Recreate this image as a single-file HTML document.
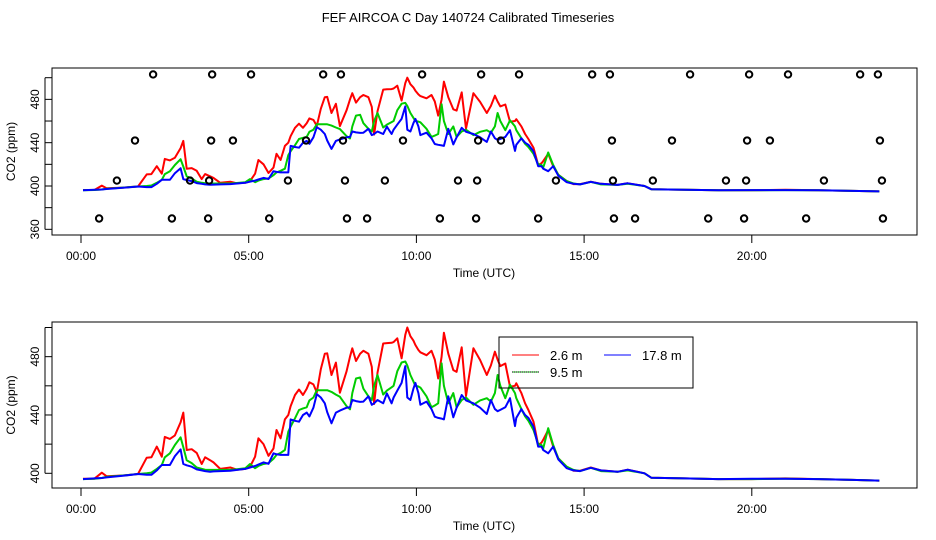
<!DOCTYPE html>
<html><head><meta charset="utf-8"><style>
body{margin:0;background:#fff;}
svg{display:block;font-family:"Liberation Sans",sans-serif;}
</style></head><body>
<svg id="c" width="936" height="540" viewBox="0 0 936 540">
<text x="468" y="22" text-anchor="middle" font-size="13">FEF AIRCOA C  Day 140724  Calibrated Timeseries</text>
</svg>
<script>
const hours=[0.06,0.4,0.62,0.76,1.25,1.7,1.96,2.1,2.26,2.41,2.5,2.65,2.8,2.97,3.05,3.15,3.3,3.45,3.6,3.7,3.85,3.95,4.15,4.45,4.65,4.9,5.04,5.19,5.29,5.44,5.59,5.74,5.83,5.95,6.08,6.18,6.25,6.38,6.5,6.62,6.73,6.81,6.93,7.03,7.15,7.27,7.34,7.47,7.6,7.72,7.92,8.02,8.09,8.2,8.32,8.42,8.57,8.67,8.74,8.84,9.01,9.12,9.26,9.32,9.43,9.56,9.67,9.73,9.82,9.91,9.97,10.06,10.12,10.3,10.45,10.55,10.65,10.75,10.82,10.95,11.1,11.2,11.35,11.48,11.7,11.9,12.1,12.22,12.34,12.42,12.5,12.65,12.79,12.94,12.98,13.13,13.24,13.34,13.49,13.63,13.73,13.78,13.93,14.08,14.23,14.48,14.68,14.88,15.2,15.5,16.0,16.3,16.8,17.0,18.0,19.0,20.0,21.0,22.0,23.0,23.8];
const red=[396.3,396.3,400.4,398,398.5,399.5,410.7,411,418.3,411.4,425,423.6,426,435,441.6,416,416.5,414,406.4,411,409,407.5,403,404,402.5,403,404.5,411.4,424,420,412,417,429.7,424,437,440,446,453.7,457.5,453.7,458,462.4,461,455.5,471.3,482,482.3,467.4,475.9,455.3,470,480,485.7,477,482,484,482,473,447.5,469,489,489.3,489.5,490,492.6,478.9,495,500,494,491,488,484.6,483,481,484,478,465,480,496.4,482,470.8,469.6,486.4,453,485.7,477.7,467.4,474,483.4,478,473.5,475.3,459.4,460,461.7,455,448,443.4,435.4,419.4,421,423,429.7,418.3,410.3,404.5,401.8,401.8,404,402,401,402.5,400,397,396.5,396,396,396.5,396,395.5,395];
const green=[396,396.3,396.8,397.5,398.5,399.5,400,400.5,403,405.7,411,413.7,419.4,424.7,418,409,407,404,403,402.5,402.3,402.3,402.3,402.3,402.8,403.5,406.4,403.5,405,406.4,407,410,412.6,414,416,428.5,432,437.7,443.4,444.5,445.3,450,452,457,457,457,457,455.8,454,452.5,446,443.9,455,465,465.7,458,452.8,450.3,460,467.4,454,456.7,459,460,470,476,476.7,474,467.4,463,460,459.5,458.8,452.8,445.3,446.5,448,475.4,460,448,455,445.3,450.3,452,447,450,451.5,449.2,455,467.4,460,451.5,460.7,455,451.5,444,439,436,429.7,420,419.4,417,430.9,419.4,410.3,404.5,402.3,401.5,403.8,401.5,401,402,400,397,396.5,396,396,396.2,396,395.5,395];
const blue=[396,396.5,396.8,397.2,398.3,399.5,399,399,402,405.7,405.7,405.7,411.8,416.4,406.4,405.5,404.5,402.7,402,401.5,401.1,401.3,401.5,401.8,402.3,403,404,405,406,407.5,406.5,413.7,413,412.6,412.6,412.6,437,436,435.4,440,441.6,439,445,454.3,452,448,442,434.3,441.6,443,445,445.3,450.3,449.5,449,449.2,452.8,447,448,450.3,448,454.8,448,452,456.7,462,473.5,452,450.3,458,462,455,447,449.2,444,438.8,438,437.5,437,452.8,438.4,445,453.7,450,448,445,440.7,450.3,444,442.6,443.5,445.3,451.5,432.4,438,444,440,438,432,418.3,418.3,416,413.7,418.3,409.5,403.5,402,401.5,403.8,402,401,402.5,400,397,396.5,396,396.2,396.2,396,395.5,395];
const flagHours370=[0.54,2.71,3.79,5.61,7.93,8.53,10.7,11.78,13.63,15.89,16.52,18.7,19.77,21.62,23.91];
const flagHours405=[1.07,3.25,3.82,6.17,7.87,9.06,11.24,11.81,14.16,15.86,17.05,19.23,19.83,22.15,23.88];
const flagHours442=[1.61,3.88,4.53,6.71,7.81,9.6,11.84,12.52,15.83,17.62,19.86,20.54,23.82];
const flagHours503=[2.15,3.91,5.07,7.22,7.75,10.17,11.93,13.06,15.24,15.77,18.16,19.92,21.08,23.23,23.76];
const xTickHours=[0,5,10,15,20];
const xTickLabels=["00:00","05:00","10:00","15:00","20:00"];
const yTicks=[360,380,400,420,440,460,480,500];
const yLabelVals=[360,400,440,480];
const yTicks2=[400,420,440,460,480,500];
const yLabelVals2=[400,440,480];

const svg=document.getElementById('c');
const NS='http://www.w3.org/2000/svg';
function mk(tag,attrs,parent){const e=document.createElementNS(NS,tag);for(const k in attrs)e.setAttribute(k,attrs[k]);(parent||svg).appendChild(e);return e;}
const X=h=>81+h*33.54;
function panel(top,bottom,Y,ticks,labelVals,name,withFlags){
  const g=mk('g',{});
  
  
  const box=mk('rect',{x:52,y:top,width:865,height:bottom-top,fill:'none',stroke:'#000','stroke-width':1},g);
  
  
  const xa=mk('g',{},g);
  
  
  mk('line',{x1:X(0),x2:X(20),y1:bottom,y2:bottom,stroke:'none'},xa);
  xTickHours.forEach((h,i)=>{
    mk('line',{x1:X(h),x2:X(h),y1:bottom,y2:bottom+8,stroke:'#000'},xa);
    const t=mk('text',{x:X(h),y:bottom+25,'text-anchor':'middle','font-size':12},xa);
    t.textContent=xTickLabels[i];
    
    
  });
  const xt=mk('text',{x:484,y:bottom+42,'text-anchor':'middle','font-size':12},g);
  xt.textContent='Time (UTC)';
  
  
  const ya=mk('g',{},g);
  
  
  mk('line',{x1:45,x2:45,y1:Y(ticks[0]),y2:Y(ticks[ticks.length-1]),stroke:'#000'},ya);
  ticks.forEach(v=>mk('line',{x1:45,x2:52,y1:Y(v),y2:Y(v),stroke:'#000'},ya));
  labelVals.forEach(v=>{
    const t=mk('text',{x:0,y:0,'text-anchor':'middle','font-size':12,transform:`translate(39,${Y(v)}) rotate(-90)`},ya);
    t.textContent=v;
    
    
  });
  const yt=mk('text',{x:0,y:0,'text-anchor':'middle','font-size':12,transform:`translate(15,${(top+bottom)/2}) rotate(-90)`},g);
  yt.textContent='CO2 (ppm)';
  
  
  [[red,'#f00','series-2-6m'],[green,'#0c0','series-9-5m'],[blue,'#00f','series-17-8m']].forEach(([d,c,n])=>{
    const p=mk('polyline',{points:hours.map((h,i)=>X(h).toFixed(1)+','+Y(d[i]).toFixed(1)).join(' '),fill:'none',stroke:c,'stroke-width':2,'stroke-linejoin':'round'},g);
    
    
  });
  if(withFlags){
    [[flagHours370,370],[flagHours405,405],[flagHours442,442],[flagHours503,503]].forEach(([arr,v])=>{
      arr.forEach(h=>{
        const c=mk('circle',{cx:X(h),cy:Y(v),r:3.2,fill:'none',stroke:'#000','stroke-width':2},g);
        
        
      });
    });
  }
}
panel(68,235,v=>186-(v-400)*1.083,yTicks,yLabelVals,'top-panel',true);
panel(322,488,v=>473.3-(v-400)*1.458,yTicks2,yLabelVals2,'bottom-panel',false);

const lg=mk('g',{});


mk('rect',{x:499,y:337,width:194,height:51,fill:'none',stroke:'#000'},lg);
[[512,355,'#f00','2.6 m',false],[604,355,'#00f','17.8 m',false],[512,372,'#0c0','9.5 m',true]].forEach(([x,y,c,l,dot])=>{
  const e=mk('g',{},lg);
  
  
  mk('line',{x1:x,x2:x+27,y1:y,y2:y,stroke:c,'stroke-width':1},e);
  if(dot)mk('line',{x1:x,x2:x+27,y1:y,y2:y,stroke:'#000','stroke-width':1,'stroke-dasharray':'1,1'},e);
  const t=mk('text',{x:x+38,y:y+5,'font-size':13},e);
  t.textContent=l;
});
</script>
</body></html>
